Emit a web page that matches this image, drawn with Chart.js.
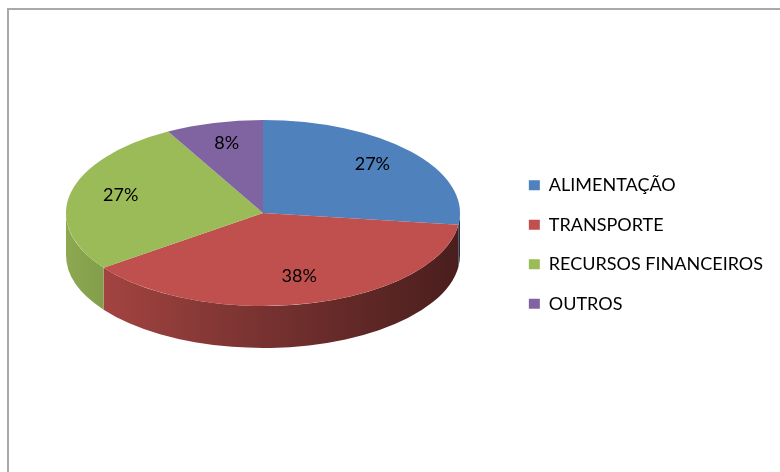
<!DOCTYPE html>
<html lang="pt">
<head>
<meta charset="UTF-8">
<script src="https://cdn.jsdelivr.net/npm/chart.js"></script>
<style>
  body { margin: 0; background: #fff; overflow: hidden; }
  .wrap { position: relative; width: 780px; height: 472px; }
  .frame { position: absolute; left: 7px; top: 8px; width: 800px; height: 500px; border: 2px solid #a9a9a9; box-sizing: border-box; }
  #myChart { position: absolute; left: 0; top: 0; }
</style>
</head>
<body>
<div class="wrap">
  <div class="frame"></div>
  <canvas id="myChart" width="780" height="472"></canvas>
</div>
<script>
  const categories = ['ALIMENTAÇÃO', 'TRANSPORTE', 'RECURSOS FINANCEIROS', 'OUTROS'];
  const shares = [27, 38, 27, 8];
  const topColors = ['#4f81bd', '#c0504d', '#9bbb59', '#8064a2'];

  // where the flattened pie sits on the page
  const view = { cx: 263, cy: 213, rx: 197, ry: 93, depth: 42 };

  const shade = (hex, k) => {
    const n = parseInt(hex.slice(1), 16);
    const r = Math.round(((n >> 16) & 255) * k);
    const g = Math.round(((n >> 8) & 255) * k);
    const b = Math.round((n & 255) * k);
    return `rgb(${r}, ${g}, ${b})`;
  };

  const pie3d = {
    id: 'pie3d',
    beforeDatasetsDraw(chart) {
      const ctx = chart.ctx;
      const arcs = chart.getDatasetMeta(0).data;
      // front wall of each slice (only the part facing us, 0..PI)
      arcs.forEach((arc, i) => {
        const s = Math.max(arc.startAngle, 0);
        const e = Math.min(arc.endAngle, Math.PI);
        if (e <= s) return;
        const grad = ctx.createLinearGradient(view.cx - view.rx, 0, view.cx + view.rx, 0);
        grad.addColorStop(0, shade(topColors[i], 0.9));
        grad.addColorStop(0.5, shade(topColors[i], 0.62));
        grad.addColorStop(1, shade(topColors[i], 0.38));
        ctx.beginPath();
        ctx.ellipse(view.cx, view.cy, view.rx, view.ry, 0, s, e);
        ctx.ellipse(view.cx, view.cy + view.depth, view.rx, view.ry, 0, e, s, true);
        ctx.closePath();
        ctx.fillStyle = grad;
        ctx.fill();
      });
      // squash the top face into an ellipse
      const a = arcs[0];
      ctx.save();
      ctx.translate(view.cx, view.cy);
      ctx.scale(view.rx / a.outerRadius, view.ry / a.outerRadius);
      ctx.translate(-a.x, -a.y);
    },
    afterDatasetsDraw(chart) {
      const ctx = chart.ctx;
      ctx.restore();
      const arcs = chart.getDatasetMeta(0).data;
      const total = shares.reduce((p, c) => p + c, 0);
      ctx.save();
      ctx.font = '18px Lato';
      ctx.fillStyle = '#000';
      ctx.textAlign = 'center';
      ctx.textBaseline = 'middle';
      arcs.forEach((arc, i) => {
        const mid = (arc.startAngle + arc.endAngle) / 2;
        const f = 0.74;
        const x = view.cx + view.rx * f * Math.cos(mid);
        const y = view.cy + view.ry * f * Math.sin(mid) - 3;
        ctx.fillText(Math.round(shares[i] / total * 100) + '%', x, y);
      });
      ctx.restore();
    }
  };

  const ctx = document.getElementById('myChart').getContext('2d');
  const chart = new Chart(ctx, {
    type: 'pie',
    data: {
      labels: categories,
      datasets: [{
        data: shares,
        backgroundColor: topColors,
        borderWidth: 0,
        clip: false
      }]
    },
    options: {
      responsive: false,
      animation: false,
      layout: { padding: { top: 17, right: 7, bottom: 0, left: 0 } },
      plugins: {
        legend: {
          position: 'right',
          labels: {
            boxWidth: 11,
            boxHeight: 10,
            padding: 21.5,
            color: '#000',
            font: { family: 'Lato', size: 18 }
          }
        },
        tooltip: { enabled: false }
      }
    },
    plugins: [pie3d]
  });
</script>
</body>
</html>
